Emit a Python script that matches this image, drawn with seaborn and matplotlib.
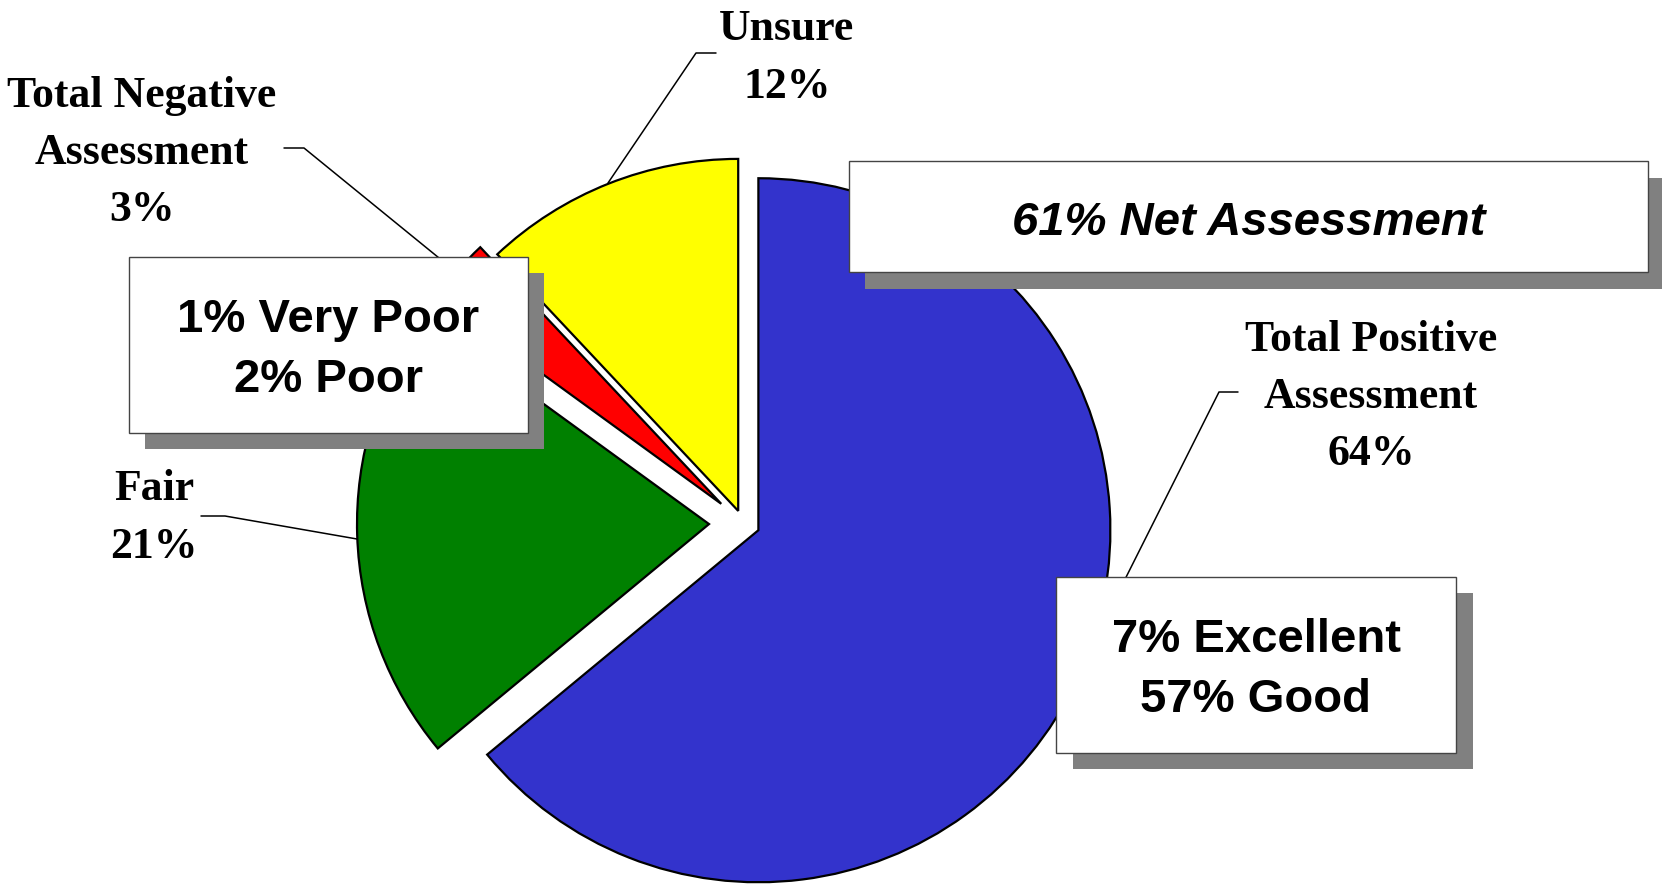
import matplotlib
matplotlib.use("Agg")
import matplotlib.pyplot as plt
import matplotlib.patches as mpatches
import seaborn as sns

categories = ["Total Positive\nAssessment", "Fair", "Total Negative\nAssessment", "Unsure"]
shares = [64, 21, 3, 12]
slice_colors = ["#3333CC", "#008000", "#FF0000", "#FFFF00"]

box_texts = ["61% Net Assessment", "1% Very Poor\n2% Poor", "7% Excellent\n57% Good"]

W, H = 1662, 886


def iy(y):
    # image (top-down) pixel row -> axis y
    return H - y


sns.set_theme(style="white")
plt.rcParams["font.family"] = ["Liberation Serif", "DejaVu Serif"]
plt.rcParams["text.color"] = "black"

fig = plt.figure(figsize=(W / 100, H / 100), dpi=100)
ax = fig.add_axes([0, 0, 1, 1])

radius = 352
# matplotlib offsets exploded wedges in data units (pixels here)
explode = [17, 34, 29, 13]
ax.pie(shares, colors=slice_colors, explode=explode, startangle=90,
       counterclock=False, center=(743, iy(523)), radius=radius,
       wedgeprops=dict(edgecolor="black", linewidth=1.6))

ax.set_xlim(0, W)
ax.set_ylim(0, H)
ax.set_aspect("auto")
ax.axis("off")

# slice labels with leader lines
label_font = dict(fontsize=31.5, fontweight="bold", family=["Liberation Serif", "DejaVu Serif"],
                  ha="center", va="center", linespacing=1.55, color="black")
ax.text(787, iy(58), f"{categories[3]}\n{shares[3]}%", **label_font)
ax.text(142, iy(153), f"{categories[2]}\n{shares[2]}%", **label_font)
ax.text(154, iy(518), f"{categories[1]}\n{shares[1]}%", **label_font)
ax.text(1371, iy(397), f"{categories[0]}\n{shares[0]}%", **label_font)

leaders = [
    ([716, 696, 608], [53, 53, 183]),
    ([284, 304, 455], [148, 148, 271]),
    ([201, 225, 357], [516, 516, 539]),
    ([1238, 1219, 1088], [392, 392, 653]),
]
for xs, ys in leaders:
    ax.plot(xs, [iy(v) for v in ys], color="black", linewidth=1.1, zorder=3)


def shadow_box(x0, y0, x1, y1, dx, dy, text, style="normal", nudge=5):
    shadow = mpatches.Rectangle((x0 + dx, iy(y1 + dy)), x1 - x0, y1 - y0,
                                facecolor="#808080", edgecolor="none", zorder=5)
    box = mpatches.Rectangle((x0, iy(y1)), x1 - x0, y1 - y0,
                             facecolor="white", edgecolor="#444444", linewidth=1.0, zorder=6)
    ax.add_patch(shadow)
    ax.add_patch(box)
    ax.text((x0 + x1) / 2, iy((y0 + y1) / 2 + nudge), text, fontsize=34, fontweight="bold",
            fontstyle=style, family=["Liberation Sans", "DejaVu Sans"], color="black",
            ha="center", va="center", linespacing=1.48, zorder=7)


shadow_box(849, 161, 1648, 272, 16, 17, box_texts[0], style="italic", nudge=6)
shadow_box(129, 257, 528, 433, 16, 16, box_texts[1])
shadow_box(1056, 577, 1456, 753, 17, 16, box_texts[2])

fig.savefig("out.png", dpi=100, facecolor="white")
